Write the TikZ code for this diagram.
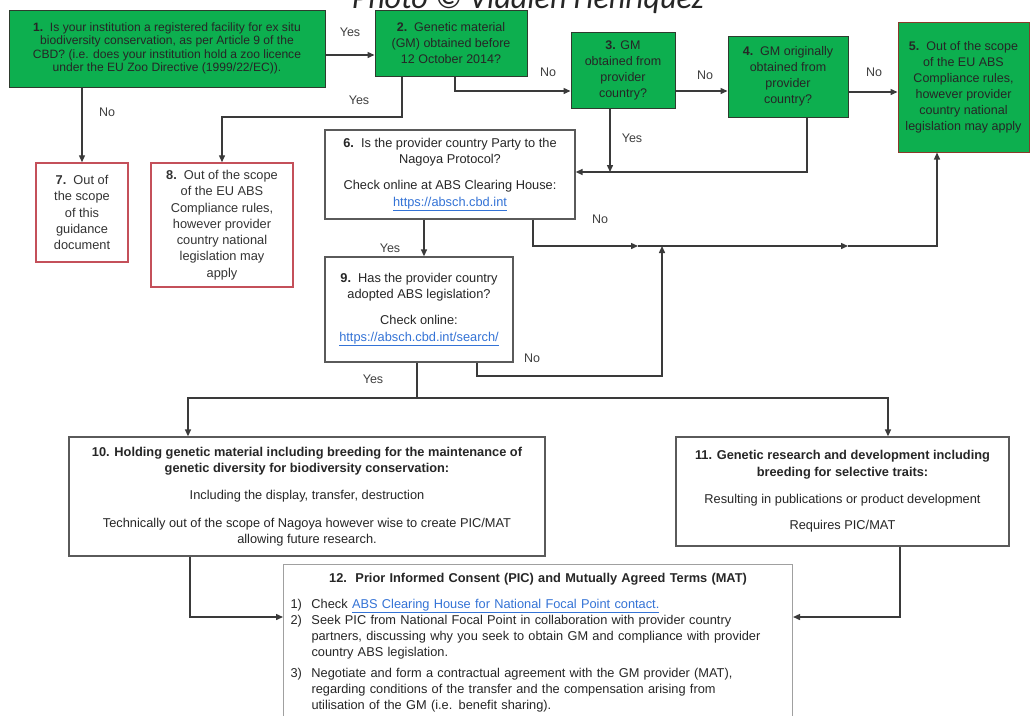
\documentclass[tikz,border=0pt]{standalone}
\usepackage{fontspec}
\setmainfont{Liberation Sans}
\newfontfamily\creditfont{Carlito}
\usetikzlibrary{positioning,arrows.meta}
\definecolor{zoogreen}{HTML}{0DAF4F}
\definecolor{zooedge}{HTML}{2E3B2E}
\definecolor{outred}{HTML}{C4505A}
\definecolor{outbrown}{HTML}{8A3A2A}
\definecolor{lineg}{HTML}{3A3A3A}
\definecolor{boxg}{HTML}{5A5A5A}
\definecolor{lightg}{HTML}{A0A0A0}
\definecolor{linkblue}{HTML}{3473D6}
\newcommand{\weblink}[1]{\textcolor{linkblue}{\underline{#1}}}
\tikzset{
  box/.style={
    draw, align=center, inner sep=3pt, line width=1pt,
    font=\fontsize{12.8}{16.3}\selectfont,
  },
  qgreen/.style ={box, draw=zooedge, fill=zoogreen, text=black!85,
                  font=\fontsize{12.5}{16}\selectfont},
  outbox/.style ={box, draw=outred, line width=1.5pt, fill=white, text=black!80},
  qwhite/.style ={box, draw=boxg, line width=1.3pt, fill=white, text=black!85},
  stepnote/.style={box, draw=lightg, line width=1pt, fill=white, text=black!85},
  flow/.style  ={-{Triangle[length=7pt,width=6pt]}, draw=lineg, line width=1.4pt},
  link/.style  ={draw=lineg, line width=1.4pt},
  lbl/.style   ={font=\fontsize{12.5}{14}\selectfont, text=black!75, fill=white, inner sep=1pt},
}
\begin{document}
\begin{tikzpicture}[x=1pt, y=-1pt]
\useasboundingbox (0,0) rectangle (1030,715);

% ------------------------------------------------------------- credit line
\node[font=\creditfont\itshape\fontsize{32}{34}\selectfont, text=black!85, anchor=base]
  (credit) at (528,8) {Photo © Vladien Henriquez};

% ------------------------------------------------------------- green questions
\node[qgreen, minimum width=316, minimum height=77, font=\fontsize{12.1}{13.4}\selectfont]
  (q1) at (167,48.5) {\textbf{1.}\ \ Is your institution a registered facility for ex situ\\
   biodiversity conservation, as per Article 9 of the\\
   CBD? (i.e. does your institution hold a zoo licence\\
   under the EU Zoo Directive (1999/22/EC)).};
\node[qgreen, minimum width=152, minimum height=66] (q2) at (451,43)
  {\textbf{2.}\ \ Genetic material\\(GM) obtained before\\12 October 2014?};
\node[qgreen, minimum width=104, minimum height=76] (q3) at (623,70)
  {\textbf{3.} GM\\obtained from\\provider\\country?};
\node[qgreen, minimum width=120, minimum height=81] (q4) at (788,76.5)
  {\textbf{4.}\ \ GM originally\\obtained from\\provider\\country?};
\node[qgreen, draw=outbrown, minimum width=131, minimum height=130] (q5) at (963.5,87)
  {\textbf{5.}\ \ Out of the scope\\of the EU ABS\\Compliance rules,\\however provider\\
   country national\\legislation may apply};

% ------------------------------------------------------------- out of scope
\node[outbox, minimum width=92, minimum height=99] (r7) at (82,212.5)
  {\textbf{7.}\ \ Out of\\the scope\\of this\\guidance\\document};
\node[outbox, minimum width=142, minimum height=124] (r8) at (222,225)
  {\textbf{8.}\ \ Out of the scope\\of the EU ABS\\Compliance rules,\\however provider\\
   country national\\legislation may\\apply};

% ------------------------------------------------------------- Nagoya checks
\node[qwhite, minimum width=250, minimum height=89] (q6) at (450,174.5)
  {\textbf{6.}\ \ Is the provider country Party to the\\Nagoya Protocol?\\[10pt]
   Check online at ABS Clearing House:\\\weblink{https://absch.cbd.int}};
\node[qwhite, minimum width=188, minimum height=105] (q9) at (419,309.5)
  {\textbf{9.}\ \ Has the provider country\\adopted ABS legislation?\\[10pt]
   Check online:\\\weblink{https://absch.cbd.int/search/}};

% ------------------------------------------------------------- uses
\node[qwhite, minimum width=476, minimum height=119] (w10) at (307,496.5)
  {\textbf{10. Holding genetic material including breeding for the maintenance of}\\
   \textbf{genetic diversity for biodiversity conservation:}\\[11pt]
   Including the display, transfer, destruction\\[11pt]
   Technically out of the scope of Nagoya however wise to create PIC/MAT\\
   allowing future research.};
\node[qwhite, minimum width=333, minimum height=109] (w11) at (842.5,491.5)
  {\textbf{11. Genetic research and development including}\\
   \textbf{breeding for selective traits:}\\[11pt]
   Resulting in publications or product development\\[10pt]
   Requires PIC/MAT};

% the box runs on past the lower edge of the page, hence the empty last line
\node[stepnote, anchor=north west, minimum width=509,
      text width=495, align=left, inner xsep=7pt, inner ysep=9pt] (w12) at (283,564)
  {\makebox[495pt][c]{\textbf{12.\ \ Prior Informed Consent (PIC) and Mutually Agreed Terms (MAT)}}\\[9pt]
   \makebox[21pt][l]{1)}Check \weblink{ABS Clearing House for National Focal Point contact.}\\
   \makebox[21pt][l]{2)}Seek PIC from National Focal Point in collaboration with provider country\\
   \hspace*{21pt}partners, discussing why you seek to obtain GM and compliance with provider\\
   \hspace*{21pt}country ABS legislation.\\[4pt]
   \makebox[21pt][l]{3)}Negotiate and form a contractual agreement with the GM provider (MAT),\\
   \hspace*{21pt}regarding conditions of the transfer and the compensation arising from\\
   \hspace*{21pt}utilisation of the GM (i.e. benefit sharing).\\[24pt]
   \mbox{}};

% ------------------------------------------------------------- bends
\coordinate (j12) at (0,55);
\coordinate (j2y) at (402,117);
\coordinate (j2n) at (455,91);
\coordinate (j34) at (0,91);
\coordinate (j45) at (0,92);
\coordinate (j36) at (610,172);
\coordinate (j46) at (807,172);
\coordinate (j69) at (424,0);
\coordinate (n6) at (533,0);
\coordinate (m1) at (638,246);
\coordinate (m2) at (848,246);
\coordinate (c5) at (937,0);
\coordinate (n9) at (477,0);
\coordinate (k9) at (662,376);
\coordinate (y9) at (417,398);
\coordinate (s10) at (188,0);
\coordinate (s11) at (888,0);
\coordinate (e10) at (190,617);
\coordinate (e11) at (900,617);

% ------------------------------------------------------------- connectors
\draw[flow] (q1.east |- j12) -- (q2.west |- j12);
\draw[flow] (r7.north |- q1.south) -- (r7.north);
\draw[flow] (q2.south -| j2y) -- (j2y) -| (r8.north);
\draw[flow] (q2.south -| j2n) |- (q3.west |- j2n);
\draw[flow] (q3.east |- j34) -- (q4.west |- j34);
\draw[flow] (q4.east |- j45) -- (q5.west |- j45);
\draw[flow] (q3.south -| j36) -- (j36);
\draw[flow] (q4.south -| j46) |- (q6.east |- j46);
\draw[flow] (q6.south -| j69) -- (q9.north -| j69);
\draw[flow] (q6.south -| n6) |- (m1);
\draw[flow] (m1) -- (m2);
\draw[flow] (m2) -| (q5.south -| c5);
\draw[flow] (q9.south -| n9) |- (k9) -- (k9 |- m1);
\draw[link] (q9.south -| y9) -- (y9);
\draw[flow] (y9) -| (w10.north -| s10);
\draw[flow] (y9) -| (w11.north -| s11);
\draw[flow] (w10.south -| e10) |- (w12.west |- e10);
\draw[flow] (w11.south -| e11) |- (w12.east |- e11);

% ------------------------------------------------------------- answers
\foreach \x/\y/\ans [count=\i] in {350/32/Yes, 107/112/No, 359/100/Yes, 548/72/No,
    705/75/No, 874/72/No, 632/138/Yes, 600/219/No, 390/248/Yes, 532/358/No, 373/379/Yes}
  \node[lbl] (ans\i) at (\x,\y) {\ans};

\end{tikzpicture}
\end{document}
